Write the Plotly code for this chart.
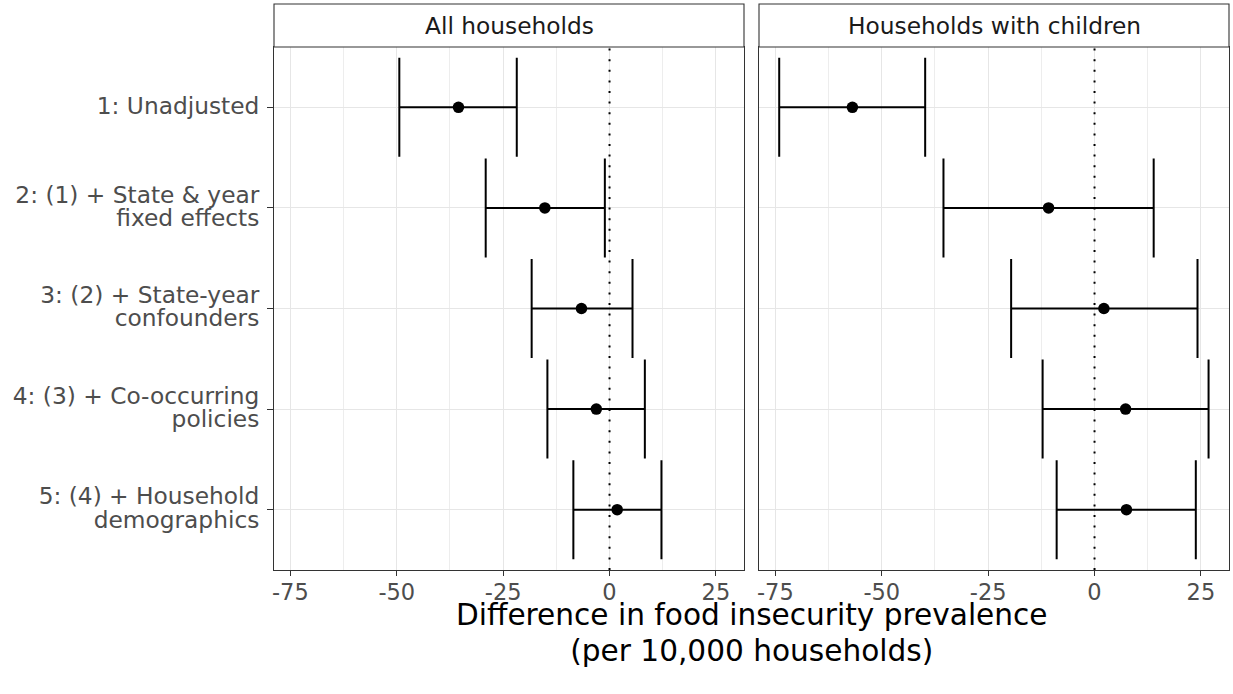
import plotly.graph_objects as go

models = ["1: Unadjusted",
          "2: (1) + State & year<br>fixed effects",
          "3: (2) + State-year<br>confounders",
          "4: (3) + Co-occurring<br>policies",
          "5: (4) + Household<br>demographics"]
positions = [1, 2, 3, 4, 5]

all_est = [-35.5, -15.2, -6.6, -3.1, 1.8]
all_lo = [-49.4, -29.1, -18.3, -14.6, -8.5]
all_hi = [-21.8, -1.1, 5.4, 8.3, 12.2]

kid_est = [-56.9, -10.8, 2.2, 7.3, 7.5]
kid_lo = [-74.1, -35.5, -19.6, -12.2, -8.9]
kid_hi = [-39.8, 13.9, 24.2, 26.8, 23.8]

panels = ["All households", "Households with children"]
xticks = [-75, -50, -25, 0, 25]
xtick_text = ["-75", "-50", "-25", "0", "25"]

W, H = 1233, 694
ml, mr, mt, mb = 274, 4, 47, 124
pw = W - ml - mr
ph = H - mt - mb
dom1 = [0, (744 - ml) / pw]
dom2 = [(759 - ml) / pw, 1]
xr = [-78.85, 31.6]
strip_h = 43 / ph

fig = go.Figure()
for i, (est, lo, hi) in enumerate([(all_est, all_lo, all_hi), (kid_est, kid_lo, kid_hi)]):
    xa = "x" if i == 0 else "x2"
    ya = "y" if i == 0 else "y2"
    fig.add_trace(go.Scatter(
        x=est, y=positions, mode="markers", xaxis=xa, yaxis=ya,
        marker=dict(color="black", size=11.5),
        error_x=dict(type="data", symmetric=False,
                     array=[h - e for h, e in zip(hi, est)],
                     arrayminus=[e - l for e, l in zip(est, lo)],
                     color="black", thickness=2, width=49.5),
        showlegend=False, hoverinfo="skip"))

grid = "#E6E6E6"
border = "#333333"
axcommon = dict(range=xr, tickvals=xticks, ticktext=xtick_text, showgrid=True,
                gridcolor=grid, gridwidth=1.2, zeroline=False, showline=True,
                linecolor=border, linewidth=1.1, mirror=True, ticks="outside",
                ticklen=5, tickwidth=1.1, tickcolor=border, ticklabelstandoff=-3,
                tickfont=dict(family="DejaVu Sans", size=22.5, color="#4D4D4D"),
                minor=dict(tick0=-87.5, dtick=25, showgrid=True, gridcolor="#EDEDED",
                           gridwidth=0.7, ticks=""))
fig.update_layout(
    xaxis=dict(domain=dom1, anchor="y", **axcommon),
    xaxis2=dict(domain=dom2, anchor="y2", **axcommon),
    yaxis=dict(domain=[0, 1], anchor="x", range=[5.6, 0.4], tickvals=positions,
               ticktext=['<span style="font-size:23.3px">' + m + '</span>' for m in models],
               showgrid=True, gridcolor=grid, gridwidth=1.2, zeroline=False,
               showline=True, linecolor=border, linewidth=1.1, mirror=True,
               ticks="outside", ticklen=6, tickwidth=1.1, tickcolor=border,
               ticklabelstandoff=4,
               tickfont=dict(family="DejaVu Sans", size=18, color="#4D4D4D")),
    yaxis2=dict(domain=[0, 1], anchor="x2", range=[5.6, 0.4], tickvals=positions,
                showticklabels=False, showgrid=True, gridcolor=grid, gridwidth=1.2,
                zeroline=False, showline=True, linecolor=border, linewidth=1.1,
                mirror=True, ticks=""),
    width=W, height=H, margin=dict(l=ml, r=mr, t=mt, b=mb, autoexpand=False),
    plot_bgcolor="white", paper_bgcolor="white",
)

shapes = []
annotations = []
for i, (dom, name) in enumerate(zip([dom1, dom2], panels)):
    xa = "x" if i == 0 else "x2"
    ya = "y" if i == 0 else "y2"
    shapes.append(dict(type="line", xref=xa, yref=ya + " domain", x0=0, x1=0, y0=0, y1=1,
                       line=dict(color="black", width=2, dash="2px,8.6px")))
    shapes.append(dict(type="rect", xref="paper", yref="paper", x0=dom[0], x1=dom[1],
                       y0=1, y1=1 + strip_h, fillcolor="white",
                       line=dict(color=border, width=1.1), layer="above"))
    annotations.append(dict(text=name, xref="paper", yref="paper",
                            x=(dom[0] + dom[1]) / 2, y=1 + strip_h / 2,
                            xanchor="center", yanchor="middle", showarrow=False,
                            font=dict(family="DejaVu Sans", size=23.3, color="#1A1A1A")))
annotations.append(dict(text='<span style="font-size:29.6px">Difference in food insecurity prevalence<br>(per 10,000 households)</span>',
                        xref="paper", yref="paper", x=0.5, y=(570 - 633) / ph,
                        xanchor="center", yanchor="middle", showarrow=False,
                        font=dict(family="DejaVu Sans", size=27.5, color="black")))
fig.update_layout(shapes=shapes, annotations=annotations)
fig.write_html("out.html")
